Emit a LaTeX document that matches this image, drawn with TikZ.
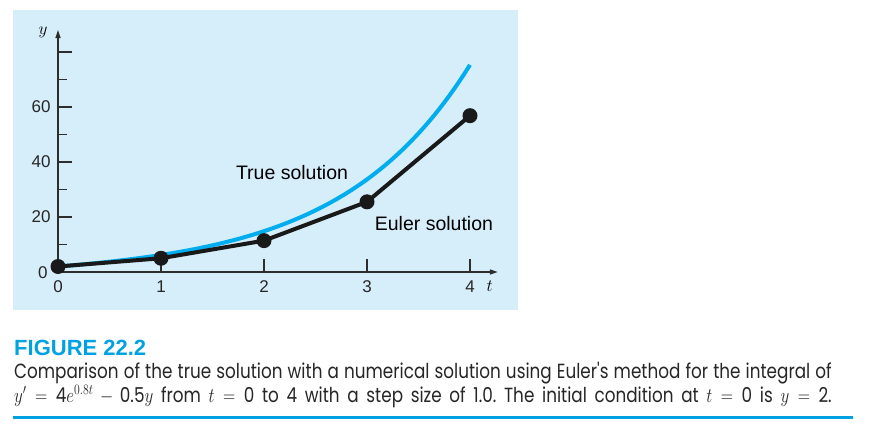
\documentclass[tikz,border=0pt]{standalone}
\usepackage{fontspec}
\setmainfont{Liberation Sans}
\newfontfamily\capfont{Poppins}
\usetikzlibrary{positioning, arrows.meta}
\definecolor{panelblue}{RGB}{214,237,250}
\definecolor{truecyan}{RGB}{0,174,239}
\definecolor{capblue}{RGB}{0,162,226}
\definecolor{axisgray}{RGB}{45,45,45}
% one caption line, condensed and set to the full measure
\newcommand{\capline}[1]{\scalebox{0.82}[1]{\frenchspacing\thickmuskip=9mu\medmuskip=7mu\makebox[997pt][s]{#1}}}
\tikzset{
  x=1pt, y=-1pt, % one unit is one pixel of the reference
  axis/.style={draw=axisgray, line width=1.2pt, -{Triangle[length=8pt, width=5pt]}},
  tickline/.style={draw=axisgray, line width=1.2pt},
  ticklabel/.style={font=\fontsize{17}{20}\selectfont, text=black!85, inner sep=0pt},
  axisname/.style={font=\fontsize{17}{20}\selectfont, inner sep=0pt},
  truecurve/.style={line width=4pt, truecyan},
  eulerline/.style={line width=4pt, black!90, line join=round},
  eulerdot/.style={circle, fill=black!90, minimum size=15pt, inner sep=0pt},
  curvelabel/.style={font=\fontsize{19.5}{22}\selectfont, inner sep=0pt},
  captext/.style={anchor=base west, inner sep=0pt, font=\capfont\fontsize{20.5}{24}\selectfont, text=black!85}
}

\begin{document}
\begin{tikzpicture}
  \useasboundingbox (0,0) rectangle (881,434);
  \fill[panelblue] (13,10) rectangle (518,310);

  \begin{scope}[shift={(58,272)}, x=103pt, y=2.75pt]
    % axes
    \coordinate (origin) at (0,0);
    \coordinate (tend) at (4.27,0);
    \coordinate (yend) at (0,88);
    \draw[axis] (origin) -- (tend);
    \draw[axis] (origin) -- (yend);
    \node[axisname] (tname) at (4.19,-5.1) {$t$};
    \node[axisname] (yname) at (-0.146,87) {$y$};

    % ticks and their labels
    \foreach \t in {1,...,4}
      \draw[tickline] (\t,0) -- ++(0,4.7);
    \foreach \v in {20,40,60,80}
      \draw[tickline] (0,\v) -- ++(0.136,0);
    \foreach \v in {10,30,50,70}
      \draw[tickline] (0,\v) -- ++(0.087,0);
    \foreach \t in {0,...,4}
      \node[ticklabel] (xl\t) at (\t,-5.45) {\t};
    \foreach \v in {20,40,60}
      \node[ticklabel, anchor=east] (yl\v) at (-0.07,\v) {\v};
    \node[ticklabel] (yl0) at (-0.146,-0.4) {0};

    % true solution
    \draw[truecurve] plot[domain=0:4, samples=80]
      (\x, {4/1.3*(exp(0.8*\x)-exp(-0.5*\x))+2*exp(-0.5*\x)});

    % Euler solution, step size 1
    \coordinate (p0) at (0,2);
    \coordinate (p1) at (1,5);
    \coordinate (p2) at (2,11.402);
    \coordinate (p3) at (3,25.513);
    \coordinate (p4) at (4,56.849);
    \draw[eulerline] (p0) -- (p1) -- (p2) -- (p3) -- (p4);
    \foreach \i in {0,...,4}
      \node[eulerdot] (e\i) at (p\i) {};

    \node[curvelabel] (truelabel) at (2.272,36) {True solution};
    \node[curvelabel] (eulerlabel) at (3.65,17.45) {Euler solution};
  \end{scope}

  % caption
  \node[anchor=base west, inner sep=0pt, text=capblue,
        font=\bfseries\fontsize{22}{24}\selectfont] (figtitle) at (14,355) {FIGURE 22.2};
  \node[captext] (capone) at (14,378)
    {\capline{Comparison of the true solution with a numerical solution using Euler's method for the integral of}};
  \node[captext] (captwo) at (14,402)
    {\capline{$y' = \mbox{4}e^{0.8t} - \mbox{0.5}y$ from $t = \mbox{0}$ to 4 with a step size of 1.0. The initial condition at $t = \mbox{0}$ is $y = \mbox{2}$.}};
  \coordinate (ruleleft) at (13,417);
  \coordinate (ruleright) at (853,417);
  \draw[capblue, line width=3pt] (ruleleft) -- (ruleright);
\end{tikzpicture}
\end{document}
